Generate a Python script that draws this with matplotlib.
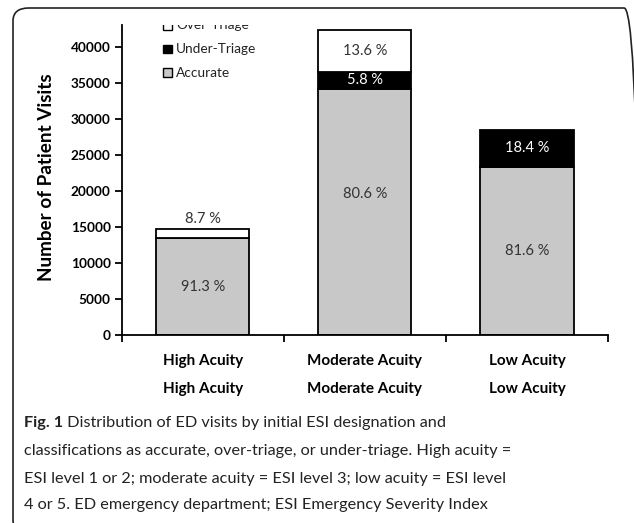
import matplotlib
matplotlib.use("Agg")
import matplotlib.pyplot as plt
import numpy as np
from matplotlib.patches import Rectangle, FancyBboxPatch
import matplotlib.transforms as mtransforms

categories = ["High Acuity", "Moderate Acuity", "Low Acuity"]
accurate = [13420, 34090, 23260]
under_triage = [0, 2450, 5240]
over_triage = [1280, 5760, 0]
acc_labels = ["91.3 %", "80.6 %", "81.6 %"]
under_labels = ["", "5.8 %", "18.4 %"]
over_labels = ["8.7 %", "13.6 %", ""]
yticks = [0, 5000, 10000, 15000, 20000, 25000, 30000, 35000, 40000]
legend_names = ["Over-Triage", "Under-Triage", "Accurate"]

caption_bold = "Fig. 1"
caption_lines = [
    " Distribution of ED visits by initial ESI designation and",
    "classifications as accurate, over-triage, or under-triage. High acuity =",
    "ESI level 1 or 2; moderate acuity = ESI level 3; low acuity = ESI level",
    "4 or 5. ED emergency department; ESI Emergency Severity Index",
]

FONT = "Lato"
CAPFONT = ["Liberation Sans Narrow", "Lato"]
GRAY = "#c8c8c8"
W, H = 634, 523

fig = plt.figure(figsize=(W / 100, H / 100), dpi=100)
ax = fig.add_axes([121.7 / W, 1 - 335 / H, (608 - 121.7) / W, (335 - 25) / H])

x = np.arange(len(categories))
bw = 0.575
acc = np.array(accurate)
und = np.array(under_triage)
ovr = np.array(over_triage)
ax.bar(x, acc, bw, color=GRAY, edgecolor="black", linewidth=1.3, zorder=2)
ax.bar(x, und, bw, bottom=acc, color="black", edgecolor="black", linewidth=1.3, zorder=2)
mask = ovr > 0
ax.bar(x[mask], ovr[mask], bw, bottom=(acc + und)[mask], color="white",
       edgecolor="black", linewidth=1.3, zorder=2)

ax.set_xlim(-0.5, 2.5)
ax.set_ylim(0, 43000)

# segment labels
lab_kw = dict(ha="center", va="center", fontsize=10.5, family=FONT, zorder=3)
for i in range(3):
    yc = acc[i] / 2
    if i == 1:
        yc = acc[i] * 0.575
    ax.text(x[i], yc, acc_labels[i], color="#333333", **lab_kw)
    if und[i] > 0:
        ax.text(x[i], acc[i] + und[i] / 2, under_labels[i], color="white", **lab_kw)
    if ovr[i] > 0:
        top = acc[i] + und[i]
        if ovr[i] < 3000:
            ax.annotate(over_labels[i], (x[i], top + ovr[i]), xytext=(0, 7.5),
                        textcoords="offset points", color="#333333", **lab_kw)
        else:
            ax.text(x[i], top + ovr[i] / 2, over_labels[i], color="#333333", **lab_kw)

# axes styling
for s in ["top", "right"]:
    ax.spines[s].set_visible(False)
for s in ["left", "bottom"]:
    ax.spines[s].set_linewidth(1.3)
ax.set_yticks(yticks)
ax.set_yticklabels([str(v) for v in yticks], fontsize=9.8, fontweight="bold", family=FONT)
ax.tick_params(axis="y", direction="out", length=5, width=1.3, pad=3)
ax.set_xticks(x)
ax.set_xticklabels(categories, fontsize=11, fontweight="bold", family=FONT)
ax.tick_params(axis="x", which="major", length=0, pad=14)
ax.set_xticks([-0.5, 0.5, 1.5, 2.5], minor=True)
ax.tick_params(axis="x", which="minor", direction="out", length=5, width=1.3)

# y axis title
fig.text(47 / W, 1 - 177 / H, "Number of Patient Visits", rotation=90,
         ha="center", va="center", fontsize=13.6, fontweight="bold", family=FONT)

# second row of category labels
trans = mtransforms.blended_transform_factory(ax.transData, ax.transAxes)
for i, c in enumerate(categories):
    ax.text(x[i], -54 / 310, c, transform=trans, ha="center", va="center",
            fontsize=11, fontweight="bold", family=FONT, clip_on=False)

# legend, manual, clipped by axes top
leg_colors = ["white", "black", GRAY]
leg_y = [(335 - 25.3) / 310, (335 - 49) / 310, (335 - 72.7) / 310]
sq = 8.5
for name, col, yy in zip(legend_names, leg_colors, leg_y):
    r = Rectangle(((163 - 121.7) / 486.3, yy - sq / 2 / 310), sq / 486.3, sq / 310,
                  transform=ax.transAxes, facecolor=col, edgecolor="black",
                  linewidth=1.0, clip_on=True)
    ax.add_patch(r)
    ax.text((176 - 121.7) / 486.3, yy, name, transform=ax.transAxes, va="center",
            ha="left", fontsize=9.8, family=FONT, color="#222222", clip_on=True)

# rounded border
box = FancyBboxPatch((13 / W, -10 / H), (640 - 13) / W, (H + 10 - 8) / H,
                     boxstyle="round,pad=0,rounding_size=0.025",
                     transform=fig.transFigure, facecolor="none",
                     edgecolor="#222222", linewidth=1.2, clip_on=False)
fig.patches.append(box)

# caption: size chosen so the second line is ~488 px wide
fig.canvas.draw()
renderer = fig.canvas.get_renderer()
probe = fig.text(0, 0, caption_lines[1], fontsize=10, family=CAPFONT)
pw = probe.get_window_extent(renderer=renderer).width
probe.remove()
cap_fs = 10 * 488 / pw
line_y = [423, 451, 478.5, 505]
t0 = fig.text(24 / W, 1 - line_y[0] / H, caption_bold, fontsize=cap_fs,
              fontweight="bold", family=CAPFONT, va="center", ha="left", color="#222222")
bb = t0.get_window_extent(renderer=renderer)
fig.text(bb.x1 / W, 1 - line_y[0] / H, caption_lines[0], fontsize=cap_fs,
         family=CAPFONT, va="center", ha="left", color="#222222")
for ln, yy in zip(caption_lines[1:], line_y[1:]):
    fig.text(24 / W, 1 - yy / H, ln, fontsize=cap_fs, family=CAPFONT,
             va="center", ha="left", color="#222222")

fig.savefig("out.png", dpi=100)
